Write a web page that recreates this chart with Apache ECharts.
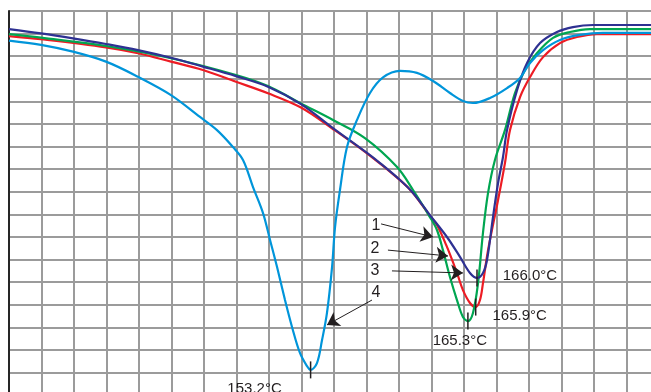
<!DOCTYPE html>
<html><head><meta charset="utf-8">
<script src="https://cdn.jsdelivr.net/npm/echarts@6/dist/echarts.min.js"></script>
<style>html,body{margin:0;padding:0;background:#fff}#c{width:651px;height:392px}</style>
</head><body><div id="c"></div>
<script>
// Temperature (°C) and heat-flow (arbitrary units)
const navyT = [130.0,132.46,134.92,137.46,139.92,142.46,144.92,147.46,149.92,152.46,154.92,157.54,158.54,160.08,161.08,162.38,163.69,164.69,165.46,166.0,166.46,166.77,167.23,167.62,168.0,168.31,169.08,169.85,170.85,172.15,173.38,174.92,180.0];
const navyV = [16.20,16.01,15.79,15.54,15.27,14.93,14.54,14.12,13.65,12.88,11.82,10.72,10.27,9.52,8.95,7.97,7.00,6.12,5.41,5.19,5.41,5.98,7.88,9.39,10.54,11.73,13.50,14.70,15.58,16.07,16.29,16.38,16.38];

const redT = [130.0,132.46,137.46,139.92,142.46,144.92,147.46,149.92,152.46,154.92,157.54,160.08,161.08,162.38,162.92,163.69,164.46,164.92,165.46,165.9,166.23,166.46,166.85,167.62,168.15,168.54,169.31,170.08,171.08,172.38,173.69,175.23,180.0];
const redV = [15.89,15.75,15.39,15.13,14.76,14.39,13.87,13.36,12.73,11.78,10.70,9.52,8.95,7.93,7.53,6.56,5.41,4.65,4.08,3.90,4.21,4.96,6.42,8.64,10.27,11.73,13.19,14.08,14.96,15.58,15.85,15.98,15.98];

const greenT = [130.0,132.46,137.46,142.46,147.46,149.92,152.38,154.92,157.38,159.85,161.08,162.38,162.92,163.38,163.92,164.46,164.92,165.3,165.69,166.08,166.46,166.85,167.38,168.15,168.92,169.69,170.62,171.85,173.15,174.69,180.0];
const greenV = [15.98,15.82,15.45,14.91,14.17,13.68,12.93,12.18,11.38,10.10,9.08,7.88,7.31,6.42,5.23,4.21,3.46,3.28,3.64,4.96,7.18,8.95,10.41,11.73,13.37,14.39,15.14,15.81,16.07,16.20,16.20];

const blueT = [130.0,132.46,134.92,137.46,139.92,142.46,144.69,146.0,147.23,148.0,148.77,149.54,150.08,150.62,151.23,151.77,152.38,152.92,153.2,153.69,154.08,154.46,154.85,155.08,155.46,156.0,156.77,157.77,158.77,160.08,161.38,162.62,163.92,164.92,165.69,167.0,168.31,169.31,170.08,171.08,172.38,173.92,175.69,180.0];
const blueV = [15.69,15.50,15.20,14.76,14.09,13.28,12.31,11.73,10.98,10.41,9.21,8.06,6.87,5.67,4.21,3.02,1.87,1.29,1.12,1.42,2.44,3.64,5.67,7.44,9.08,10.98,12.18,13.37,14.06,14.35,14.26,13.90,13.37,13.02,12.93,13.15,13.59,14.04,14.70,15.27,15.72,15.94,16.03,16.03];

// Peak annotations
const peakTemps = [166.0, 165.9, 165.3, 153.2];
const peakValues = [5.19, 3.90, 3.28, 1.12];
const peakLabels = ['166.0°C', '165.9°C', '165.3°C', '153.2°C'];

// Numbered arrows
const arrowNames = ['1', '2', '3', '4'];
const arrowStartT = [158.62, 159.15, 159.46, 157.92];
const arrowStartV = [7.58, 6.42, 5.50, 4.21];
const arrowEndT = [162.62, 163.77, 164.92, 154.46];
const arrowEndV = [7.00, 6.16, 5.41, 3.11];
const numberT = [158.23, 158.15, 158.15, 158.23];
const numberV = [7.49, 6.47, 5.50, 4.52];

const zip = (t, v) => t.map((x, i) => [x, v[i]]);
const FONT = "'Liberation Sans', Arial, sans-serif";
const INK = '#231f20';
const labelOffsets = [[25, -2], [16, 9], [-36, 20], [-84, 19]];

function peakMark(i) {
  return {
    symbol: 'rect', symbolSize: [1.5, 17], silent: true,
    itemStyle: { color: INK },
    data: [{
      coord: [peakTemps[i], peakValues[i]],
      label: {
        show: true, position: 'right', distance: 0, offset: labelOffsets[i],
        formatter: peakLabels[i], color: INK, fontSize: 15, fontFamily: FONT
      }
    }]
  };
}

const series = [
  { name: 'red', type: 'line', data: zip(redT, redV), color: '#ed1c24', markPoint: peakMark(1) },
  { name: 'green', type: 'line', data: zip(greenT, greenV), color: '#00a651', markPoint: peakMark(2) },
  { name: 'navy', type: 'line', data: zip(navyT, navyV), color: '#2e3192', markPoint: peakMark(0) },
  { name: 'blue', type: 'line', data: zip(blueT, blueV), color: '#0095da', markPoint: peakMark(3) },
  { name: 'notes', type: 'line', data: [], silent: true,
    markLine: {
      silent: true, symbol: ['none', 'arrow'], symbolSize: 12,
      lineStyle: { color: INK, width: 1, type: 'solid' }, itemStyle: { color: INK },
      label: { show: false },
      data: arrowNames.map((n, i) => [
        { coord: [arrowStartT[i], arrowStartV[i]] },
        { coord: [arrowEndT[i], arrowEndV[i]] }
      ])
    },
    markPoint: {
      symbol: 'circle', symbolSize: 1, silent: true, itemStyle: { color: 'rgba(0,0,0,0)' },
      data: arrowNames.map((n, i) => ({
        coord: [numberT[i], numberV[i]],
        label: { show: true, position: 'inside', formatter: n, color: INK, fontSize: 16, fontFamily: FONT }
      }))
    }
  }
];
series.forEach(s => {
  if (s.name !== 'notes') {
    s.showSymbol = false; s.symbol = 'none'; s.smooth = 0.35;
    s.lineStyle = { width: 2.2 };
  }
  s.animation = false;
});

const chart = echarts.init(document.getElementById('c'), null, { renderer: 'canvas' });
chart.setOption({
  backgroundColor: '#ffffff',
  animation: false,
  grid: { left: 9, top: 11, width: 650, height: 384.2, containLabel: false, outerBoundsMode: 'none' },
  xAxis: {
    type: 'value', position: 'top', min: 130, max: 180, interval: 2.5,
    axisLine: { show: true, lineStyle: { color: '#262626', width: 2 } },
    axisTick: { show: false }, axisLabel: { show: false },
    splitLine: { show: true, lineStyle: { color: '#9b9b9b', width: 2 } }
  },
  yAxis: {
    type: 'value', min: 0, max: 17, interval: 1,
    axisLine: { show: true, lineStyle: { color: '#262626', width: 2 } },
    axisTick: { show: false }, axisLabel: { show: false },
    splitLine: { show: true, lineStyle: { color: '#9b9b9b', width: 2 } }
  },
  series: series
});
</script>
</body></html>
